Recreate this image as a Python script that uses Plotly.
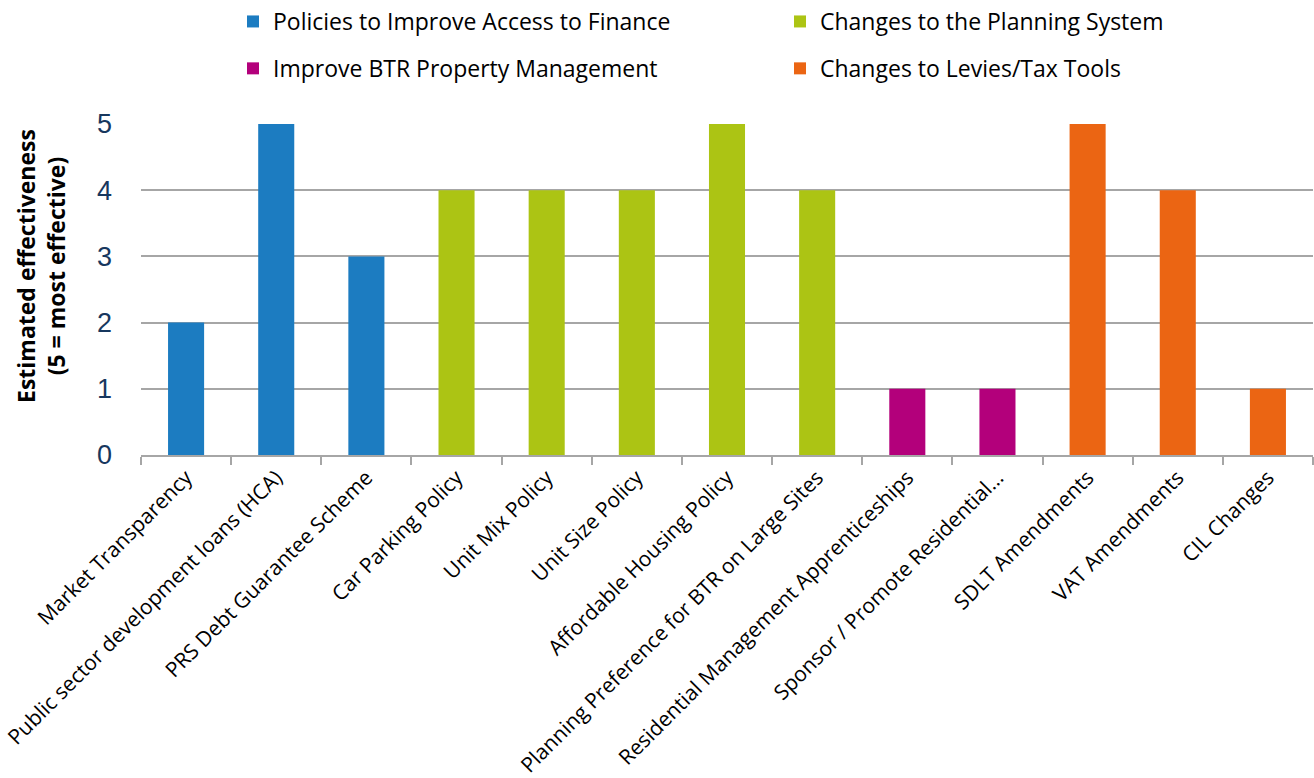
import plotly.graph_objects as go

categories = [
    "Market Transparency",
    "Public sector development loans (HCA)",
    "PRS Debt Guarantee Scheme",
    "Car Parking Policy",
    "Unit Mix Policy",
    "Unit Size Policy",
    "Affordable Housing Policy",
    "Planning Preference for BTR on Large Sites",
    "Residential Management Apprenticeships",
    "Sponsor / Promote Residential…",
    "SDLT Amendments",
    "VAT Amendments",
    "CIL Changes",
]

finance_cats = categories[0:3]
finance_vals = [2, 5, 3]

planning_cats = categories[3:8]
planning_vals = [4, 4, 4, 5, 4]

management_cats = categories[8:10]
management_vals = [1, 1]

tax_cats = categories[10:13]
tax_vals = [5, 4, 1]

y_title = "<b>Estimated effectiveness<br>(5 = most effective)</b>"

# (name, categories, values, colour, legend column)
series = [
    ("Policies to Improve Access to Finance", finance_cats, finance_vals, "#1C7CC1", "legend"),
    ("Changes to the Planning System", planning_cats, planning_vals, "#ACC414", "legend2"),
    ("Improve BTR Property Management", management_cats, management_vals, "#B3007B", "legend"),
    ("Changes to Levies/Tax Tools", tax_cats, tax_vals, "#EB6513", "legend2"),
]

fig = go.Figure()
for name, cats, vals, color, leg in series:
    fig.add_trace(go.Bar(
        x=cats, y=vals, name=name,
        marker=dict(color=color, line=dict(width=0)),
        width=0.4,
        legend=leg,
        legendgroup=name,
    ))

legend_style = dict(
    orientation="v",
    xref="container", yref="container",
    yanchor="top", y=1.0,
    xanchor="left",
    font=dict(family="Open Sans", size=23, color="black"),
    tracegroupgap=14,
    bgcolor="rgba(0,0,0,0)",
)

fig.update_layout(
    width=1314, height=778,
    paper_bgcolor="white", plot_bgcolor="white",
    barmode="overlay",
    margin=dict(l=141, r=1, t=124, b=323, autoexpand=False),
    font=dict(family="Open Sans", color="black"),
    legend=dict(legend_style, x=233 / 1314),
    legend2=dict(legend_style, x=780 / 1314),
    showlegend=True,
)

# Rotated two-line y-axis title, placed left of the tick labels
fig.add_annotation(
    text=y_title,
    xref="paper", yref="paper",
    x=(41 - 141) / 1172, y=(455 - 266) / 331,
    xanchor="center", yanchor="middle",
    textangle=-90, showarrow=False,
    font=dict(family="Open Sans", size=23, color="black"),
)

fig.update_xaxes(
    type="category",
    categoryorder="array", categoryarray=categories,
    tickangle=-45,
    tickfont=dict(family="Open Sans", size=21, color="black"),
    showline=True, linecolor="#A6A6A6", linewidth=2,
    ticks="outside", tickson="boundaries", ticklen=8,
    tickcolor="#A6A6A6", tickwidth=2,
    showgrid=False,
    automargin=False,
)

fig.update_yaxes(
    range=[0, 5],
    dtick=1,
    tickfont=dict(family="Liberation Sans", size=27, color="#17375E"),
    showgrid=True, gridcolor="#A6A6A6", gridwidth=1.5,
    zeroline=False, showline=False,
    ticks="", ticklabelstandoff=28,
    automargin=False,
)

fig.write_html("out.html")
